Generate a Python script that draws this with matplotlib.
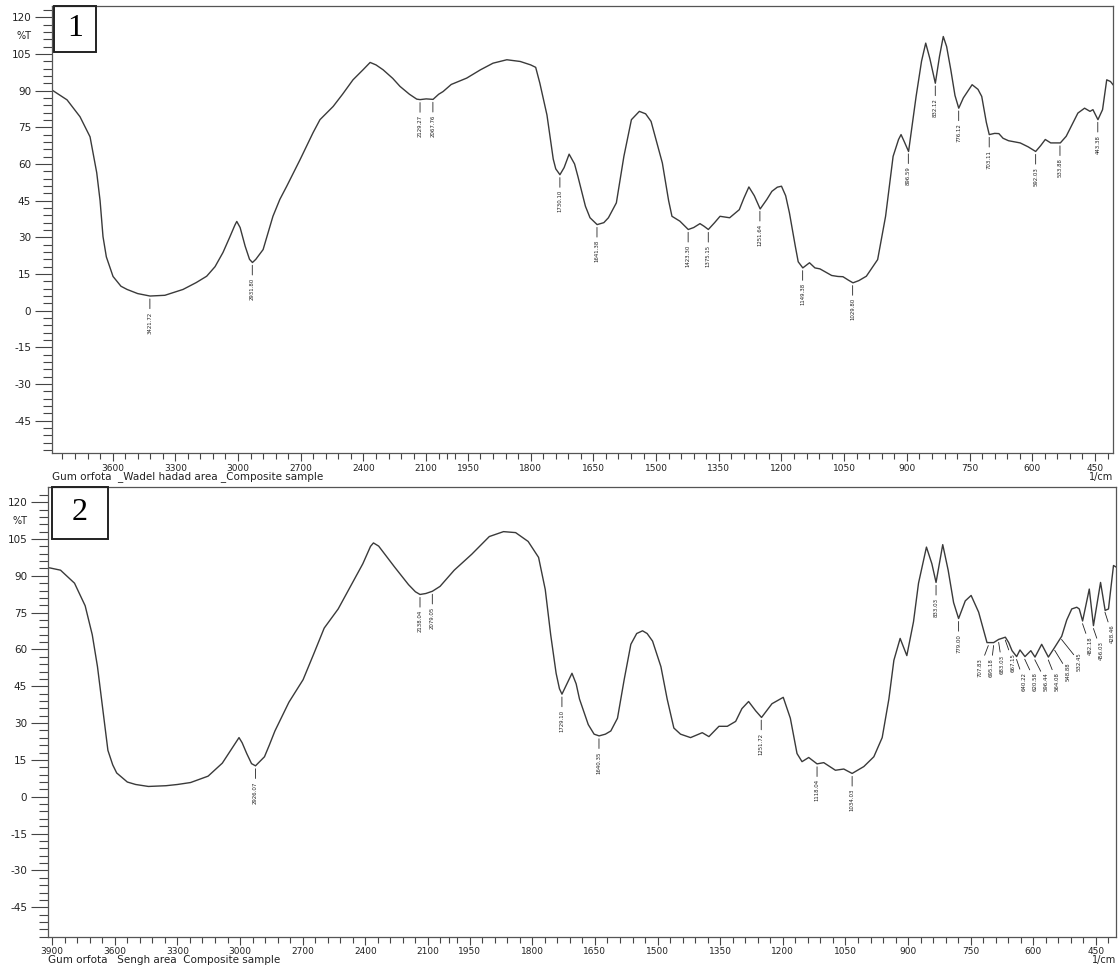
import numpy as np
import matplotlib
matplotlib.use('Agg')
import matplotlib.pyplot as plt
from matplotlib.patches import Rectangle

plt.rcParams['font.family'] = 'DejaVu Sans'
plt.rcParams['axes.unicode_minus'] = False

# FTIR spectrum 1: Wadel hadad area (wavenumber 1/cm, %T)
wn1 = [3886, 3818, 3756, 3708, 3676, 3660, 3646, 3630, 3598, 3560, 3531, 3480, 3421, 3350,
       3263, 3200, 3150, 3110, 3072, 3040, 3015, 3006, 2990, 2966, 2945, 2931, 2915, 2880,
       2833, 2800, 2767, 2703, 2641, 2608, 2545, 2500, 2450, 2402, 2368, 2340, 2306, 2260,
       2225, 2180, 2145, 2129, 2100, 2067, 2040, 2019, 1990, 1953, 1920, 1890, 1857, 1825,
       1800, 1788, 1778, 1761, 1746, 1740, 1730, 1720, 1708, 1695, 1687, 1669, 1658, 1641,
       1625, 1614, 1595, 1577, 1559, 1540, 1525, 1512, 1485, 1470, 1462, 1443, 1423, 1410,
       1395, 1385, 1375, 1360, 1347, 1324, 1301, 1290, 1278, 1265, 1251, 1235, 1223, 1210,
       1200, 1190, 1181, 1167, 1160, 1149, 1133, 1120, 1108, 1080, 1065, 1053, 1040, 1029,
       1015, 997, 970, 951, 933, 920, 914, 906, 896, 878, 865, 855, 845, 832, 822, 813, 805,
       795, 785, 776, 765, 744, 730, 721, 710, 703, 690, 680, 670, 657, 629, 610, 592, 580,
       569, 556, 533, 519, 505, 491, 475, 462, 455, 443, 432, 422, 413, 407]
t1 = [90.0, 86.2, 79.3, 71.1, 56.4, 45.0, 30.3, 22.0, 14.0, 10.0, 8.7, 7.0, 6.0, 6.3,
      8.7, 11.5, 14.1, 18.0, 23.8, 30.0, 35.0, 36.5, 34.0, 26.4, 21.0, 19.7, 21.0, 25.0,
      38.6, 45.5, 50.9, 61.8, 72.8, 78.1, 83.5, 88.5, 94.4, 98.5, 101.5, 100.5, 98.5, 95.0,
      91.7, 88.5, 86.5, 86.3, 86.6, 86.4, 88.5, 89.6, 92.5, 95.1, 98.5, 101.2, 102.6, 101.9,
      100.5, 99.5, 93.0, 80.0, 62.0, 58.0, 55.6, 58.5, 64.0, 60.0, 54.9, 42.7, 38.0, 35.2,
      36.0, 38.0, 44.1, 63.1, 78.1, 81.5, 80.5, 77.4, 60.4, 45.0, 38.6, 36.6, 33.2, 34.0,
      35.6, 34.5, 33.2, 36.0, 38.6, 38.0, 41.3, 46.0, 50.6, 47.0, 41.6, 45.5, 48.8, 50.5,
      50.9, 47.0, 40.0, 26.4, 20.0, 17.5, 19.6, 17.5, 17.1, 14.4, 14.0, 13.9, 12.5, 11.4,
      12.3, 14.1, 20.9, 38.6, 63.1, 70.0, 72.0, 69.0, 65.1, 87.6, 102.0, 109.4, 103.0, 93.0,
      104.0, 112.1, 108.0, 98.5, 88.0, 82.8, 87.0, 92.4, 90.5, 87.6, 77.0, 72.0, 72.5, 72.4,
      70.5, 69.5, 68.6, 67.0, 65.1, 67.5, 70.0, 68.6, 68.6, 71.3, 76.0, 80.8, 82.8, 81.5,
      82.2, 78.1, 82.2, 94.4, 93.7, 92.4]
peaks1 = [3421.72, 2931.80, 2129.27, 2067.76, 1730.10, 1641.38, 1423.30, 1375.15, 1251.64,
          1149.38, 1029.80, 896.59, 832.12, 776.12, 703.11, 592.03, 533.88, 443.38]

# FTIR spectrum 2: Sengh area
wn2 = [3920, 3910, 3860, 3793, 3742, 3708, 3683, 3658, 3633, 3610, 3591, 3540, 3500, 3439,
       3355, 3300, 3237, 3153, 3085, 3035, 3005, 2990, 2968, 2945, 2926, 2910, 2883, 2860,
       2833, 2766, 2698, 2647, 2597, 2530, 2463, 2412, 2375, 2361, 2336, 2260, 2193, 2160,
       2138, 2110, 2079, 2042, 1987, 1945, 1903, 1869, 1840, 1810, 1785, 1769, 1756, 1743,
       1735, 1729, 1720, 1705, 1695, 1687, 1666, 1652, 1640, 1625, 1612, 1596, 1580, 1564,
       1550, 1536, 1525, 1512, 1492, 1477, 1461, 1445, 1421, 1393, 1377, 1353, 1333, 1313,
       1298, 1282, 1265, 1251, 1226, 1199, 1182, 1166, 1154, 1138, 1118, 1102, 1074, 1054,
       1034, 1006, 982, 962, 946, 934, 919, 903, 887, 875, 856, 843, 833, 817, 804, 791, 779,
       763, 749, 731, 711, 695, 683, 667, 659, 651, 640, 632, 620, 606, 596, 580, 564, 548,
       532, 520, 508, 496, 490, 482, 466, 456, 439, 428, 420, 408, 402]
t2 = [93.3, 93.2, 92.3, 87.0, 77.8, 66.0, 53.0, 35.9, 18.9, 13.0, 9.7, 6.0, 5.0, 4.2,
      4.5, 5.0, 5.8, 8.4, 13.7, 20.2, 24.1, 22.0, 17.6, 13.5, 12.6, 14.0, 16.3, 21.0,
      26.8, 38.5, 47.7, 58.2, 68.7, 76.5, 87.0, 94.9, 102.0, 103.4, 102.1, 93.6, 86.4, 83.5,
      82.4, 82.8, 83.7, 85.7, 92.3, 98.8, 106.0, 108.0, 107.6, 104.0, 97.5, 84.4, 66.0, 50.3,
      44.0, 41.8, 45.0, 50.3, 46.0, 39.8, 29.4, 25.5, 24.8, 25.5, 26.8, 32.0, 47.7, 62.1,
      66.5, 67.6, 66.5, 63.4, 53.0, 39.8, 28.0, 25.5, 24.1, 26.1, 24.5, 28.7, 28.7, 30.7,
      35.9, 38.8, 35.0, 32.3, 37.9, 40.5, 32.0, 17.6, 14.3, 16.0, 13.4, 13.9, 10.8, 11.3,
      9.5, 12.3, 16.3, 24.1, 39.8, 55.6, 64.5, 57.5, 71.3, 87.0, 101.7, 94.9, 87.3, 102.7,
      92.3, 79.1, 72.6, 79.8, 82.0, 75.2, 62.8, 62.8, 64.1, 65.0, 62.8, 59.5, 57.1, 59.8,
      57.1, 59.5, 56.9, 62.1, 56.9, 61.1, 65.4, 72.0, 76.5, 77.2, 76.5, 71.6, 84.6, 69.7,
      87.3, 75.9, 76.5, 94.2, 93.6]
peaks2 = [2926.07, 2138.04, 2079.05, 1729.10, 1640.35, 1251.72, 1118.04, 1034.03, 833.03,
          779.00, 707.83, 695.18, 683.03, 667.15, 640.22, 620.58, 596.44, 564.08, 548.88,
          532.45, 482.18, 456.03, 428.46]

major_x = [3900, 3600, 3300, 3000, 2700, 2400, 2100, 1950, 1800, 1650, 1500, 1350, 1200,
           1050, 900, 750, 600, 450]
minor_x = list(range(3840, 2000, -60)) + [2000] + list(range(1980, 400, -30))

captions = ['Gum orfota  _Wadel hadad area _Composite sample',
            'Gum orfota   Sengh area  Composite sample']

LINE = '#3a3a3a'
INK = '#222222'


# shimadzu style axis: scale halves above 2000 1/cm
def fwd(w):
    w = np.asarray(w, dtype=float)
    return np.where(w > 2000, 2000 + (w - 2000) / 2, w)


def inv(u):
    u = np.asarray(u, dtype=float)
    return np.where(u > 2000, 2000 + (u - 2000) * 2, u)


def label_peaks(ax, wn, t, peaks, gap=11):
    w_asc = np.array(wn, dtype=float)[::-1]
    t_asc = np.array(t, dtype=float)[::-1]
    tv = np.interp(peaks, w_asc, t_asc)
    px = [ax.transData.transform((p, v))[0] for p, v in zip(peaks, tv)]
    xs = list(px)
    for i in range(1, len(xs)):
        xs[i] = max(xs[i], xs[i - 1] + gap)
    right = ax.transAxes.transform((1, 0))[0] - 4
    xs[-1] = min(xs[-1], right)
    for i in range(len(xs) - 2, -1, -1):
        xs[i] = min(xs[i], xs[i + 1] - gap)
    for p, v, x0, x1 in zip(peaks, tv, px, xs):
        ax.annotate(f'{p:.2f}', xy=(p, v - 1.2), xytext=((x1 - x0) * 72 / 100, -9),
                    textcoords='offset points', rotation=90, ha='center', va='top',
                    fontsize=3.9, color=INK,
                    arrowprops=dict(arrowstyle='-', lw=0.6, color=INK,
                                    shrinkA=0, shrinkB=0))


fig = plt.figure(figsize=(11.18, 9.67), dpi=100)

W, H = 1118, 967
panels = [
    # left, right, top, bottom (px), xlim, ylim
    dict(box=(52, 1113, 5.7, 453.3), xlim=(3890, 407), ylim=(-58.3, 124.7),
         wn=wn1, t=t1, peaks=peaks1, num='1', nbox=(54, 96, 5.7, 52), cap=captions[0]),
    dict(box=(48, 1116, 486.7, 936.7), xlim=(3920, 402), ylim=(-50.5, 126.3),
         wn=wn2, t=t2, peaks=peaks2, num='2', nbox=(52, 108, 487, 539), cap=captions[1]),
]

for p in panels:
    l, r, tp, bt = p['box']
    ax = fig.add_axes([l / W, 1 - bt / H, (r - l) / W, (bt - tp) / H])
    ax.set_xscale('function', functions=(fwd, inv))
    ax.plot(p['wn'], p['t'], color=LINE, lw=1.0)
    ax.set_xlim(*p['xlim'])
    ax.set_ylim(*p['ylim'])

    ticks = [v for v in major_x if v <= p['xlim'][0]]
    ax.set_xticks(ticks)
    ax.set_xticklabels([str(v) for v in ticks])
    ax.set_xticks([v for v in minor_x if v <= p['xlim'][0]], minor=True)
    ax.set_yticks(range(-45, 121, 15))
    ax.set_yticks(np.arange(-57, 124, 3), minor=True)

    ax.tick_params(axis='y', which='major', direction='out', length=12, width=0.8,
                   pad=3, labelsize=7.5, color='#444444', labelcolor=INK)
    ax.tick_params(axis='y', which='minor', direction='out', length=6.5, width=0.8,
                   color='#444444')
    ax.tick_params(axis='x', which='major', direction='out', length=6, width=0.8,
                   pad=1.5, labelsize=6.5, color='#444444', labelcolor=INK)
    ax.tick_params(axis='x', which='minor', direction='out', length=4, width=0.8,
                   color='#444444')
    for s in ax.spines.values():
        s.set_color('#555555')
        s.set_linewidth(0.9)

    ax.annotate('%T', xy=(0, 112.5), xycoords=ax.get_yaxis_transform(),
                xytext=(-15, 0), textcoords='offset points', ha='right', va='center',
                fontsize=7, color=INK)

    label_peaks(ax, p['wn'], p['t'], p['peaks'])

    # sample number box
    x0, x1, y0, y1 = p['nbox']
    fig.add_artist(Rectangle((x0 / W, 1 - y1 / H), (x1 - x0) / W, (y1 - y0) / H,
                             transform=fig.transFigure, fill=False, lw=1.4, ec=INK))
    fig.text((x0 + x1) / 2 / W, 1 - (y0 + y1) / 2 / H, p['num'], ha='center', va='center',
             fontsize=23, family='Liberation Serif', color='black')

    # caption and unit under the axis
    fig.text(l / W, 1 - (bt + 23.5) / H, p['cap'], fontsize=7.5, va='center', color=INK)
    fig.text(r / W, 1 - (bt + 23.5) / H, '1/cm', fontsize=7, va='center', ha='right',
             color=INK)

fig.savefig('out.png', dpi=100)
